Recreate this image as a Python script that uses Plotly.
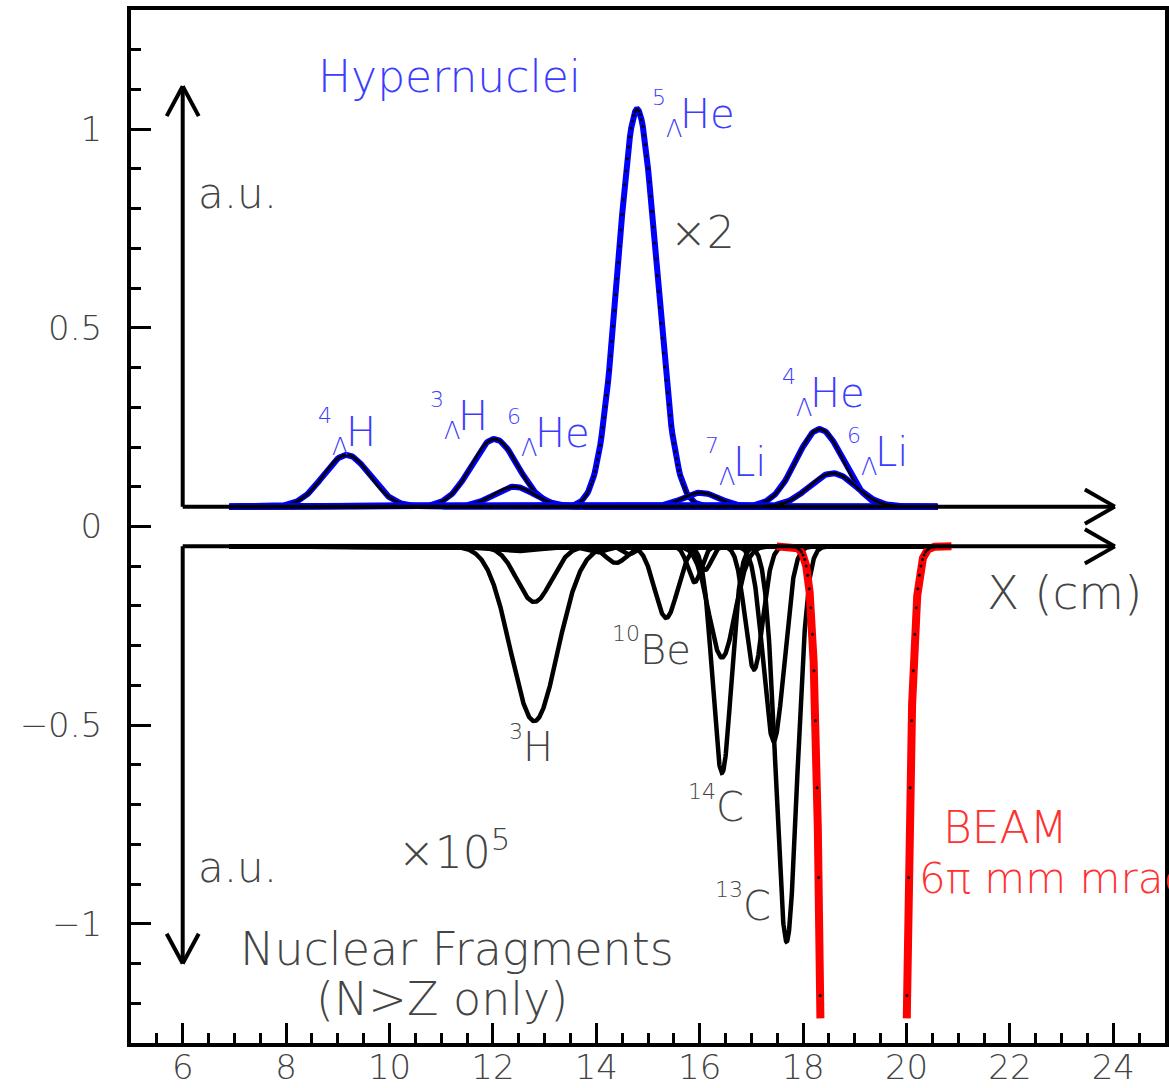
import numpy as np
import plotly.graph_objects as go

# ---------------- data ----------------
# Hypernuclei (upper panel, "x2"), gaussian peaks on a baseline of 0.05
hyp_labels = ["4ΛH", "3ΛH", "6ΛHe", "5ΛHe", "7ΛLi", "4ΛHe", "6ΛLi"]
hyp_center = [9.17, 12.03, 12.41, 14.79, 16.02, 18.32, 18.57]
hyp_height = [0.13, 0.17, 0.05, 1.00, 0.035, 0.195, 0.084]
hyp_sigma = [0.45, 0.45, 0.40, 0.37, 0.35, 0.45, 0.45]
hyp_base = 0.05
hyp_xrange = [6.9, 20.6]

# Nuclear fragments (lower panel, "x10^5"), gaussian dips below a baseline of -0.05
frag_center = [12.80, 12.80, 12.40, 14.00, 14.38, 14.63, 15.35, 15.90, 16.10, 16.43, 16.43, 17.05, 17.43, 17.68]
frag_depth = [0.44, 0.14, 0.012, 0.015, 0.042, 0.02, 0.18, 0.09, 0.06, 0.57, 0.28, 0.31, 0.49, 0.995]
frag_sigma = [0.45, 0.33, 0.50, 0.20, 0.20, 0.12, 0.22, 0.13, 0.12, 0.18, 0.25, 0.17, 0.20, 0.20]
frag_base = -0.05
frag_xrange = [6.9, 20.6]

# Beam (6 pi mm mrad)
beam_center = 19.17
beam_amp = 75.0
beam_sigma = 0.29
beam_xrange = [17.49, 20.87]
beam_clip = -1.24

x_ticks = [6, 8, 10, 12, 14, 16, 18, 20, 22, 24]
y_ticks = [-1, -0.5, 0, 0.5, 1]

FONT = "DejaVu Sans"
TXT = "#444444"
BLUE_TXT = "#3c3cff"
RED_TXT = "#ff3030"


def gauss(x, c, a, s):
    return a * np.exp(-((x - c) ** 2) / (2 * s * s))


fig = go.Figure()

# upper panel: hypernuclei
xh = np.arange(hyp_xrange[0], hyp_xrange[1] + 1e-9, 0.025)
for c, h, s in zip(hyp_center, hyp_height, hyp_sigma):
    fig.add_trace(go.Scatter(
        x=xh, y=hyp_base + gauss(xh, c, h, s), mode="lines+markers",
        line=dict(color="#0000ff", width=6),
        marker=dict(color="black", size=3),
        hoverinfo="skip", showlegend=False))

# lower panel: fragments
xf = np.arange(frag_xrange[0], frag_xrange[1] + 1e-9, 0.005)
for c, d, s in zip(frag_center, frag_depth, frag_sigma):
    fig.add_trace(go.Scatter(
        x=xf, y=frag_base - gauss(xf, c, d, s), mode="lines",
        line=dict(color="black", width=4.5),
        hoverinfo="skip", showlegend=False))

# beam
xb = np.arange(beam_xrange[0], beam_xrange[1] + 1e-9, 0.001)
yb = frag_base - gauss(xb, beam_center, beam_amp, beam_sigma)
yb = np.where(yb < beam_clip, np.nan, yb)
fig.add_trace(go.Scatter(x=xb, y=yb, mode="lines", connectgaps=False,
                         line=dict(color="#ff0000", width=8),
                         hoverinfo="skip", showlegend=False))
xbm = np.arange(beam_xrange[0], beam_xrange[1] + 1e-9, 0.03)
ybm = frag_base - gauss(xbm, beam_center, beam_amp, beam_sigma)
ybm = np.where(ybm < beam_clip, np.nan, ybm)
fig.add_trace(go.Scatter(x=xbm, y=ybm, mode="markers",
                         marker=dict(color="black", size=3),
                         hoverinfo="skip", showlegend=False))

# ---------------- arrows (inner axes) ----------------
shapes = []
LW = 4
def seg(x0, y0, x1, y1):
    shapes.append(dict(type="line", xref="x", yref="y", x0=x0, y0=y0, x1=x1, y1=y1,
                       line=dict(color="black", width=LW), layer="above"))

# upper panel
seg(6, hyp_base, 24.03, hyp_base)
seg(23.45, hyp_base + 0.043, 24.03, hyp_base)
seg(23.45, hyp_base - 0.043, 24.03, hyp_base)
seg(6, hyp_base, 6, 1.108)
seg(5.69, 1.033, 6, 1.108)
seg(6.31, 1.033, 6, 1.108)
# lower panel
seg(6, frag_base, 24.03, frag_base)
seg(23.45, frag_base + 0.043, 24.03, frag_base)
seg(23.45, frag_base - 0.043, 24.03, frag_base)
seg(6, frag_base, 6, -1.10)
seg(5.69, -1.025, 6, -1.10)
seg(6.31, -1.025, 6, -1.10)

# ---------------- text ----------------
ann = []
def text(x, y, t, size, color, xa="center", ya="middle", xs=0, ys=0):
    ann.append(dict(x=x, y=y, xref="x", yref="y", text=t, showarrow=False,
                    xanchor=xa, yanchor=ya, xshift=xs, yshift=ys, borderpad=0,
                    font=dict(family=FONT, size=size, color=color, weight=200)))

def hyp_label(x, y, num, sym):
    text(x, y, sym, 40, BLUE_TXT, xa="left", xs=-2)
    text(x, y, "Λ", 24, BLUE_TXT, xa="right", xs=2, ys=-15)
    text(x, y, num, 22, BLUE_TXT, xa="right", xs=-14, ys=17)

def nuc_label(x, y, num, sym):
    text(x, y, sym, 40, TXT, xa="left", xs=-2)
    text(x, y, num, 22, TXT, xa="right", xs=0, ys=16)

hyp_label(9.170, 0.237, "4", "H")
hyp_label(11.351, 0.277, "3", "H")
hyp_label(12.838, 0.235, "6", "He")
hyp_label(15.637, 1.038, "5", "He")
hyp_label(16.660, 0.162, "7", "Li")
hyp_label(18.147, 0.335, "4", "He")
hyp_label(19.402, 0.187, "6", "Li")

nuc_label(12.606, -0.556, "3", "H")
nuc_label(14.865, -0.310, "10", "Be")
nuc_label(16.332, -0.706, "14", "C")
nuc_label(16.853, -0.955, "13", "C")

text(11.158, 1.133, "Hypernuclei", 44, BLUE_TXT)
text(16.062, 0.739, "×2", 44, TXT)
text(6.274, 0.839, "a.u.", 42, TXT, xa="left")
text(6.274, -0.859, "a.u.", 42, TXT, xa="left")
text(10.154, -0.812, "×10<sup>5</sup>", 44, TXT, xa="left")
text(11.313, -1.063, "Nuclear Fragments", 46, TXT)
text(11.023, -1.188, "(N>Z only)", 46, TXT)
text(23.05, -0.167, "X (cm)", 47, TXT)
text(21.911, -0.757, "BEAM", 44, RED_TXT)
text(20.232, -0.887, "6π mm mrad", 42, RED_TXT, xa="left")

fig.update_layout(
    width=1169, height=1088,
    margin=dict(l=131, r=4, t=10, b=45, autoexpand=False),
    paper_bgcolor="white", plot_bgcolor="white",
    shapes=shapes, annotations=ann,
    showlegend=False,
    font=dict(family=FONT, color=TXT),
)
fig.update_xaxes(
    range=[5, 25], showgrid=False, zeroline=False, automargin=False,
    showline=True, linecolor="black", linewidth=4, mirror=True,
    tickmode="array", tickvals=x_ticks, ticktext=[str(v) for v in x_ticks],
    ticks="inside", ticklen=20, tickwidth=3, tickcolor="black",
    minor=dict(ticks="inside", ticklen=10, tickwidth=3, tickcolor="black", dtick=0.5, showgrid=False),
    tickfont=dict(family=FONT, size=34, color=TXT, weight=200),
    ticklabelstandoff=-9,
)
fig.update_yaxes(
    range=[-1.3, 1.3], showgrid=False, zeroline=False, automargin=False,
    showline=True, linecolor="black", linewidth=4, mirror=True,
    tickmode="array", tickvals=y_ticks, ticktext=["−1", "−0.5", "0", "0.5", "1"],
    ticks="inside", ticklen=20, tickwidth=3, tickcolor="black",
    minor=dict(ticks="inside", ticklen=10, tickwidth=3, tickcolor="black", dtick=0.1, showgrid=False),
    tickfont=dict(family=FONT, size=34, color=TXT, weight=200),
    ticklabelstandoff=18,
)

fig.write_html("out.html")
